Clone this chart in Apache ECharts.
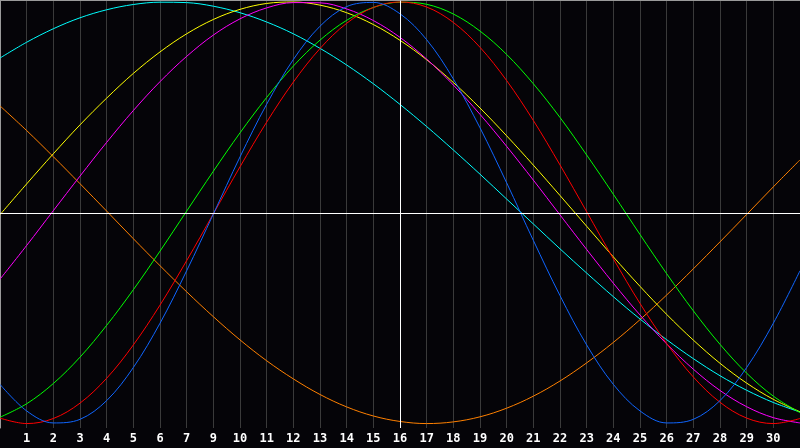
<!DOCTYPE html>
<html>
<head>
<meta charset="utf-8">
<script src="https://cdn.jsdelivr.net/npm/echarts@6/dist/echarts.min.js"></script>
<style>
html,body{margin:0;padding:0;background:#050408;}
#c{width:800px;height:448px;}
</style>
</head>
<body>
<div id="c"></div>
<script>
const dayLabels = ['', '1','2','3','4','5','6','7','9','10','11','12','13','14','15','16','17','18','19','20','21','22','23','24','25','26','27','28','29','30', ''];

const blue = [-0.814,-0.940,-0.997,-0.980,-0.891,-0.734,-0.524,-0.275,-0.006,0.265,0.515,0.727,0.885,0.978,0.998,0.944,0.821,0.635,0.403,0.142,-0.131,-0.393,-0.627,-0.814,-0.940,-0.997,-0.980,-0.891,-0.734,-0.524,-0.275];
const red = [-0.974,-1.000,-0.976,-0.903,-0.785,-0.627,-0.438,-0.227,-0.005,0.218,0.430,0.620,0.779,0.899,0.974,1.000,0.976,0.903,0.785,0.627,0.438,0.227,0.005,-0.218,-0.430,-0.620,-0.779,-0.899,-0.974,-1.000,-0.976];
const green = [-0.970,-0.906,-0.810,-0.685,-0.534,-0.365,-0.182,0.008,0.197,0.379,0.547,0.696,0.819,0.913,0.974,0.999,0.989,0.943,0.862,0.751,0.612,0.452,0.274,0.088,-0.103,-0.289,-0.465,-0.624,-0.761,-0.870,-0.948];
const magenta = [-0.315,-0.155,0.010,0.174,0.334,0.485,0.622,0.742,0.843,0.920,0.972,0.997,0.996,0.967,0.912,0.832,0.729,0.606,0.467,0.315,0.155,-0.010,-0.174,-0.334,-0.485,-0.622,-0.742,-0.843,-0.920,-0.972,-0.997];
const yellow = [-0.009,0.137,0.280,0.417,0.544,0.661,0.763,0.849,0.917,0.965,0.993,1.000,0.985,0.949,0.893,0.818,0.726,0.618,0.497,0.365,0.226,0.082,-0.064,-0.209,-0.349,-0.482,-0.604,-0.714,-0.808,-0.885,-0.944];
const orange = [0.507,0.390,0.266,0.138,0.008,-0.123,-0.251,-0.375,-0.493,-0.603,-0.702,-0.788,-0.862,-0.921,-0.964,-0.990,-1.000,-0.992,-0.968,-0.927,-0.870,-0.798,-0.712,-0.615,-0.507,-0.390,-0.266,-0.138,-0.008,0.123,0.251];
const cyan = [0.734,0.809,0.873,0.925,0.963,0.988,0.999,0.997,0.980,0.949,0.905,0.849,0.780,0.701,0.612,0.514,0.409,0.298,0.183,0.065,-0.053,-0.171,-0.286,-0.398,-0.504,-0.602,-0.692,-0.773,-0.842,-0.900,-0.945];

const seriesDefs = [
  {name:'orange', data: orange, color:'#ff8000'},
  {name:'cyan', data: cyan, color:'#00ffff'},
  {name:'yellow', data: yellow, color:'#ffff00'},
  {name:'magenta', data: magenta, color:'#ff00ff'},
  {name:'green', data: green, color:'#00ff00'},
  {name:'red', data: red, color:'#ff0000'},
  {name:'blue', data: blue, color:'#1066ff'}
];

const chart = echarts.init(document.getElementById('c'), null, {renderer:'canvas'});
const series = seriesDefs.map(function(s){
  return {
    name: s.name, type:'line', data: s.data, smooth: 0.35,
    showSymbol:false, symbol:'none', silent:true,
    lineStyle:{color:s.color, width:1}, itemStyle:{color:s.color},
    animation:false
  };
});
series.unshift({
  type:'line', data: [], silent:true, animation:false,
  markLine:{
    silent:true, symbol:'none', animation:false,
    label:{show:false},
    lineStyle:{color:'#ffffff', width:1, type:'solid'},
    data:[ {yAxis:0}, {xAxis:15} ]
  }
});
chart.setOption({
  backgroundColor:'#050408',
  animation:false,
  grid:{left:0, right:0, top:0.5, bottom:20, containLabel:false, outerBoundsMode:'none'},
  xAxis:[{
    type:'category', data: dayLabels, boundaryGap:false,
    axisLine:{show:true, lineStyle:{color:'#9a9a9a', width:1}},
    axisTick:{show:false},
    axisLabel:{show:true, interval:0, color:'#ffffff', fontFamily:'DejaVu Sans Mono', fontWeight:'bold', fontSize:12, margin:5},
    splitLine:{show:true, lineStyle:{color:'#3a3a3a', width:1}}
  },{
    type:'category', data: dayLabels, boundaryGap:false, position:'top',
    axisLine:{show:true, lineStyle:{color:'#9a9a9a', width:1}},
    axisTick:{show:false}, axisLabel:{show:false}, splitLine:{show:false}
  }],
  yAxis:{
    type:'value', min:-1.021, max:1.007,
    axisLine:{show:true, lineStyle:{color:'#9a9a9a', width:1}},
    axisTick:{show:false}, axisLabel:{show:false}, splitLine:{show:false}
  },
  series: series
});
</script>
</body>
</html>
